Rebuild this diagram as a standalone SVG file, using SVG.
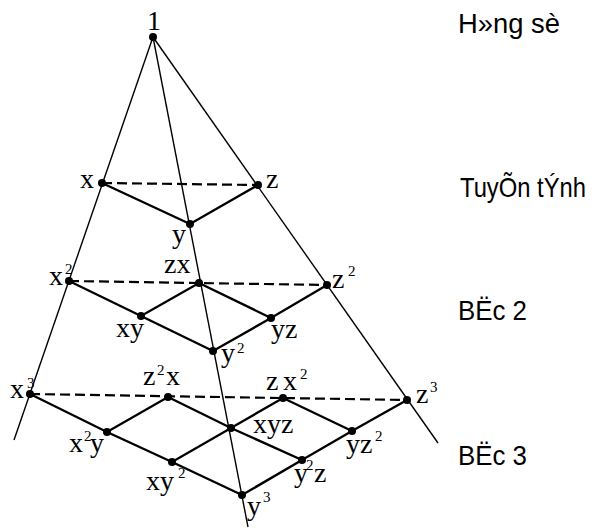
<svg xmlns="http://www.w3.org/2000/svg" width="595" height="528" viewBox="0 0 595 528">
<style>
.ray{stroke:#000;stroke-width:1.4;fill:none}
.edge{stroke:#000;stroke-width:2.4;fill:none}
.dash{stroke:#000;stroke-width:2.2;fill:none;stroke-dasharray:10 5}
.dot{fill:#000}
.lbl{font-family:"Liberation Serif","Times New Roman",serif;font-size:28px;fill:#000}
.sup{font-size:15px}
.side{font-family:"Liberation Sans",Arial,sans-serif;font-size:28px;fill:#000}
</style>
<rect width="595" height="528" fill="#fff"/>
<g id="connectors">
<line class="ray" x1="153" y1="37" x2="14" y2="440"/>
<line class="ray" x1="153" y1="37" x2="438" y2="443"/>
<line class="ray" x1="153" y1="37" x2="248" y2="527"/>
<line class="dash" x1="102" y1="183" x2="258" y2="185"/>
<line class="dash" x1="69" y1="281" x2="327" y2="285"/>
<line class="dash" x1="30" y1="394" x2="407" y2="400"/>
<polyline class="edge" points="102,183 190,224 258,185"/>
<polyline class="edge" points="69,281 141,316 199,283 271,318 327,285"/>
<polyline class="edge" points="141,316 213,351 271,318"/>
<polyline class="edge" points="30,394 107,432 168,397 231,428 283,398 352,431 407,400"/>
<polyline class="edge" points="107,432 172,462 231,428 302,460 352,431"/>
<polyline class="edge" points="172,462 242,495 302,460"/>
</g>
<g id="n1"><circle class="dot" cx="153" cy="37" r="4"/><text class="lbl" x="147" y="30">1</text></g>
<g id="nx"><circle class="dot" cx="102" cy="183" r="4"/><text class="lbl" x="80" y="188">x</text></g>
<g id="nz"><circle class="dot" cx="258" cy="185" r="4"/><text class="lbl" x="266" y="188">z</text></g>
<g id="ny"><circle class="dot" cx="190" cy="224" r="4"/><text class="lbl" x="172" y="243">y</text></g>
<g id="nx2"><circle class="dot" cx="69" cy="281" r="4"/><text class="lbl" x="49" y="285">x<tspan class="sup" x="65" y="274">2</tspan></text></g>
<g id="nzx"><circle class="dot" cx="199" cy="283" r="4"/><text class="lbl" x="164" y="273">zx</text></g>
<g id="nz2"><circle class="dot" cx="327" cy="285" r="4"/><text class="lbl" x="332" y="288">z<tspan class="sup" x="348" y="276">2</tspan></text></g>
<g id="nxy"><circle class="dot" cx="141" cy="316" r="4"/><text class="lbl" x="116" y="337">xy</text></g>
<g id="nyz"><circle class="dot" cx="271" cy="318" r="4"/><text class="lbl" x="271" y="338">yz</text></g>
<g id="ny2"><circle class="dot" cx="213" cy="351" r="4"/><text class="lbl" x="221" y="362">y<tspan class="sup" x="237" y="353">2</tspan></text></g>
<g id="nx3"><circle class="dot" cx="30" cy="394" r="4"/><text class="lbl" x="10" y="398">x<tspan class="sup" x="27" y="388">3</tspan></text></g>
<g id="nz2x"><circle class="dot" cx="168" cy="397" r="4"/><text class="lbl" x="143" y="385">z<tspan class="sup" x="157" y="375">2</tspan><tspan x="166" y="385">x</tspan></text></g>
<g id="nzx2"><circle class="dot" cx="283" cy="398" r="4"/><text class="lbl" x="266" y="390">z<tspan x="283" y="390">x</tspan><tspan class="sup" x="300" y="379">2</tspan></text></g>
<g id="nz3"><circle class="dot" cx="407" cy="400" r="4"/><text class="lbl" x="416" y="403">z<tspan class="sup" x="430" y="392">3</tspan></text></g>
<g id="nx2y"><circle class="dot" cx="107" cy="432" r="4"/><text class="lbl" x="69" y="452">x<tspan class="sup" x="84" y="441">2</tspan><tspan x="90" y="452">y</tspan></text></g>
<g id="nxyz"><circle class="dot" cx="231" cy="428" r="4"/><text class="lbl" x="253" y="433">xyz</text></g>
<g id="nyz2"><circle class="dot" cx="352" cy="431" r="4"/><text class="lbl" x="346" y="453">yz<tspan class="sup" x="375" y="441">2</tspan></text></g>
<g id="nxy2"><circle class="dot" cx="172" cy="462" r="4"/><text class="lbl" x="146" y="490">xy<tspan class="sup" x="178" y="478">2</tspan></text></g>
<g id="ny2z"><circle class="dot" cx="302" cy="460" r="4"/><text class="lbl" x="294" y="482">y<tspan class="sup" x="306" y="470">2</tspan><tspan x="314" y="482">z</tspan></text></g>
<g id="ny3"><circle class="dot" cx="242" cy="495" r="4"/><text class="lbl" x="247" y="515">y<tspan class="sup" x="263" y="502">3</tspan></text></g>
<g id="labels">
<text class="side" x="458" y="33" textLength="102" lengthAdjust="spacingAndGlyphs">H»ng sè</text>
<text class="side" x="460" y="197" textLength="126" lengthAdjust="spacingAndGlyphs">TuyÕn tÝnh</text>
<text class="side" x="458" y="320" textLength="69" lengthAdjust="spacingAndGlyphs">BËc 2</text>
<text class="side" x="458" y="465" textLength="69" lengthAdjust="spacingAndGlyphs">BËc 3</text>
</g>
</svg>
